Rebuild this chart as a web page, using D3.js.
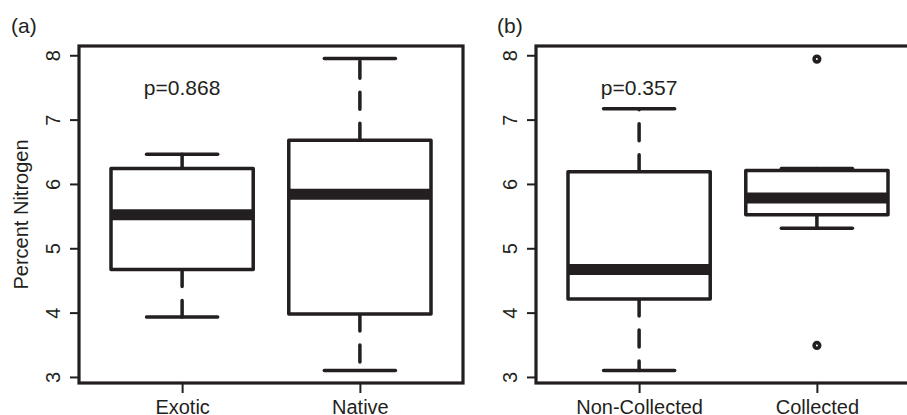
<!DOCTYPE html>
<html>
<head>
<meta charset="utf-8">
<script src="https://cdn.jsdelivr.net/npm/d3@7"></script>
<style>
  body { margin: 0; background: #fff; }
  text { font-family: "Liberation Sans", Arial, sans-serif; fill: #231f20; }
</style>
</head>
<body>
<svg id="chart" width="907" height="415"></svg>
<script>
// box stats: [lower whisker, lower hinge, median, upper hinge, upper whisker]
const groupsA = ['Exotic', 'Native'];
const statsA = [
  [3.93, 4.67, 5.52, 6.24, 6.46],
  [3.10, 3.98, 5.84, 6.68, 7.95]
];
const outliersA = [[], []];

const groupsB = ['Non-Collected', 'Collected'];
const statsB = [
  [3.10, 4.21, 4.67, 6.19, 7.17],
  [5.31, 5.52, 5.78, 6.21, 6.24]
];
const outliersB = [[], [7.94, 3.49]];

const yTicks = [3, 4, 5, 6, 7, 8];
const pLabels = ['p=0.868', 'p=0.357'];
const pLabelY = 7.5;
const panelTags = ['(a)', '(b)'];
const yTitle = 'Percent Nitrogen';

const ink = '#231f20';
const fontSize = 20;
const bigFont = 21;

const svg = d3.select('#chart');

// shared y range, R style 4% padding
const allVals = statsA.concat(statsB).flat().concat(outliersA.flat(), outliersB.flat());
const lo = d3.min(allVals), hi = d3.max(allVals);
const pad = (hi - lo) * 0.04;
const plotTop = 46, plotBottom = 383;
const y = d3.scaleLinear().domain([lo - pad, hi + pad]).range([plotBottom, plotTop]);

const drawPanel = (opt) => {
  const g = svg.append('g');
  const x = d3.scaleLinear().domain([0.42, 2.58]).range([opt.left, opt.left + 384]);
  const boxHalf = 0.4, capHalf = 0.2;

  // boxes
  opt.stats.forEach((s, i) => {
    const cx = i + 1;
    const bg = g.append('g');

    // whiskers, drawn outward from the hinges
    [[s[1], s[0]], [s[3], s[4]]].forEach(([from, to]) => {
      bg.append('line')
        .attr('x1', x(cx)).attr('x2', x(cx))
        .attr('y1', y(from)).attr('y2', y(to))
        .attr('stroke', ink).attr('stroke-width', 3.5)
        .attr('stroke-linecap', 'round')
        .attr('stroke-dasharray', '17,14');
      bg.append('line')
        .attr('x1', x(cx - capHalf)).attr('x2', x(cx + capHalf))
        .attr('y1', y(to)).attr('y2', y(to))
        .attr('stroke', ink).attr('stroke-width', 3.5)
        .attr('stroke-linecap', 'round');
    });

    bg.append('rect')
      .attr('x', x(cx - boxHalf))
      .attr('y', y(s[3]))
      .attr('width', x(cx + boxHalf) - x(cx - boxHalf))
      .attr('height', y(s[1]) - y(s[3]))
      .attr('fill', '#fff')
      .attr('stroke', ink).attr('stroke-width', 3.5)
      .attr('stroke-linejoin', 'round');

    bg.append('line')
      .attr('x1', x(cx - boxHalf)).attr('x2', x(cx + boxHalf))
      .attr('y1', y(s[2])).attr('y2', y(s[2]))
      .attr('stroke', ink).attr('stroke-width', 11);

    opt.outliers[i].forEach(v => {
      bg.append('circle')
        .attr('cx', x(cx)).attr('cy', y(v)).attr('r', 2.8)
        .attr('fill', 'none').attr('stroke', ink).attr('stroke-width', 3.6);
    });
  });

  // frame
  g.append('rect')
    .attr('x', x.range()[0]).attr('y', plotTop)
    .attr('width', x.range()[1] - x.range()[0])
    .attr('height', plotBottom - plotTop)
    .attr('fill', 'none').attr('stroke', ink).attr('stroke-width', 3.2);

  // y axis
  const yAxis = d3.axisLeft(y).tickValues(yTicks).tickSize(9).tickPadding(0).tickFormat(d3.format('d'));
  const ya = g.append('g').attr('transform', `translate(${opt.left},0)`).call(yAxis);
  ya.select('.domain').remove();
  ya.selectAll('.tick line').attr('stroke', ink).attr('stroke-width', 2);
  ya.selectAll('.tick text')
    .attr('x', null).attr('dy', null)
    .attr('transform', 'translate(-19,0) rotate(-90)')
    .attr('text-anchor', 'middle')
    .style('font-size', fontSize + 'px')
    .style('font-family', '"Liberation Sans", Arial, sans-serif')
    .attr('fill', ink);

  // x axis
  const xAxis = d3.axisBottom(x).tickValues([1, 2]).tickSize(10).tickFormat((d) => opt.groups[d - 1]);
  const xa = g.append('g').attr('transform', `translate(0,${plotBottom})`).call(xAxis);
  xa.select('.domain').remove();
  xa.selectAll('.tick line').attr('stroke', ink).attr('stroke-width', 2);
  xa.selectAll('.tick text')
    .attr('y', 30.5).attr('dy', null)
    .style('font-size', fontSize + 'px')
    .style('font-family', '"Liberation Sans", Arial, sans-serif')
    .attr('fill', ink);

  // p-value
  g.append('text')
    .attr('x', x(1)).attr('y', y(pLabelY) + 7.5)
    .attr('text-anchor', 'middle')
    .style('font-size', bigFont + 'px')
    .text(opt.pLabel);

  // panel tag
  g.append('text')
    .attr('x', opt.tagX).attr('y', 33)
    .style('font-size', bigFont + 'px')
    .text(opt.tag);

  return g;
};

drawPanel({ left: 79, groups: groupsA, stats: statsA, outliers: outliersA, pLabel: pLabels[0], tag: panelTags[0], tagX: 11 });
drawPanel({ left: 536, groups: groupsB, stats: statsB, outliers: outliersB, pLabel: pLabels[1], tag: panelTags[1], tagX: 497 });

svg.append('text')
  .attr('transform', `translate(28,${(plotTop + plotBottom) / 2}) rotate(-90)`)
  .attr('text-anchor', 'middle')
  .style('font-size', fontSize + 'px')
  .text(yTitle);
</script>
</body>
</html>
